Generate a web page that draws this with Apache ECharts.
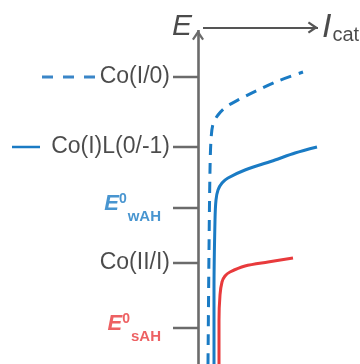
<!DOCTYPE html>
<html>
<head>
<meta charset="utf-8">
<script src="https://cdn.jsdelivr.net/npm/echarts@6/dist/echarts.min.js"></script>
<style>
html,body{margin:0;padding:0;background:#fff;}
#c{width:360px;height:364px;}
</style>
</head>
<body>
<div id="c"></div>
<script>
// ---- data (arbitrary units: x = catalytic current, y = potential E) ----
const tickLabels = ['Co(I/0)', 'Co(I)L(0/-1)', 'E0wAH', 'Co(II/I)', 'E0sAH'];
const tickE = [287, 217, 156, 101, 36];

// Co(I/0) catalytic wave (dashed)
const coI0X = [10, 11, 12, 13, 15, 20, 28, 42, 60, 80, 105];
const coI0E = [0, 114, 194, 224, 240, 249, 257, 265, 274, 283, 292];
// Co(I)L(0/-1) catalytic wave (solid blue)
const coILX = [16, 16, 17, 18, 20, 24, 30, 47, 77, 97, 119];
const coILE = [0, 74, 144, 164, 174, 181, 186, 194, 204, 211, 217];
// Co(II/I) catalytic wave (red)
const coIIX = [21, 21, 22, 24, 27, 32, 47, 70, 95];
const coIIE = [0, 44, 69, 82, 88, 92, 98, 102, 106];

// axis extents
const eAxisFrom = 0, eAxisTo = 334;
const iAxisFrom = 5, iAxisTo = 120, iAxisAt = 336.5;
const tickLen = 25;
// legend samples
const legendDashX = [-156, -101], legendSolidX = [-186, -158];

const axisColor = '#6b6b6b';
const textColor = '#1e1e1e';
const blue = '#1a7bc4';
const red = '#e83a3c';
const fontFam = "'Liberation Sans', Arial, sans-serif";

const zip = (xs, ys) => xs.map((x, i) => [x, ys[i]]);
const arrowPath = 'path://M0,9 L6,0 L12,9 L10.2,10.2 L6,4.2 L1.8,10.2 Z M6,-10.2 L6,-10.2';

const series = [];

// curves
series.push({
  type: 'line', data: zip(coI0X, coI0E), symbol: 'none', smooth: 0.3,
  lineStyle: { color: blue, width: 3, type: [11, 8] }, z: 3
});
series.push({
  type: 'line', data: zip(coILX, coILE), symbol: 'none', smooth: 0.3,
  lineStyle: { color: blue, width: 3 }, z: 3
});
series.push({
  type: 'line', data: zip(coIIX, coIIE), symbol: 'none', smooth: 0.3,
  lineStyle: { color: red, width: 3 }, z: 3
});

// tick marks
tickE.forEach((e, i) => {
  const s = {
    type: 'line', data: [[-tickLen, e], [0, e]], symbol: 'none',
    lineStyle: { color: axisColor, width: 2.5 }, z: 2
  };
  if (i === 0) {
    s.markLine = {
      silent: true, symbol: ['none', arrowPath], symbolSize: [12, 20.4],
      label: { show: false },
      lineStyle: { type: 'solid', color: axisColor, width: 2.6 },
      data: [
        [{ coord: [0, eAxisFrom] }, { coord: [0, eAxisTo] }],
        [{ coord: [iAxisFrom, iAxisAt], lineStyle: { color: '#555', width: 2.2 } },
         { coord: [iAxisTo, iAxisAt] }]
      ]
    };
  }
  series.push(s);
});

// legend samples
series.push({
  type: 'line', data: [[legendDashX[0], tickE[0]], [legendDashX[1], tickE[0]]], symbol: 'none',
  lineStyle: { color: '#3a86c8', width: 3, type: [11, 10] }
});
series.push({
  type: 'line', data: [[legendSolidX[0], tickE[1]], [legendSolidX[1], tickE[1]]], symbol: 'none',
  lineStyle: { color: blue, width: 2.5 }
});

// tick labels
function richFor(c) {
  return {
    eb: { fontSize: 22, fontWeight: 'bold', fontStyle: 'italic', color: c, fontFamily: fontFam },
    sup: { fontSize: 14, fontWeight: 'bold', color: c, padding: [0, 0, 10, 0], fontFamily: fontFam },
    sub: { fontSize: 15, fontWeight: 'bold', color: c, padding: [25, 0, 0, 1], fontFamily: fontFam }
  };
}
series.push({
  type: 'scatter', symbolSize: 0, silent: true, z: 5,
  data: tickE.map((e, i) => {
    const name = tickLabels[i];
    const isE0 = name.indexOf('E0') === 0;
    const c = name === 'E0sAH' ? red : blue;
    return {
      value: [-tickLen, e],
      label: isE0 ? {
        formatter: '{eb|E}{sup|0}{sub|' + name.slice(2) + '}',
        distance: 12, offset: [0, -4], rich: richFor(c)
      } : { formatter: name, distance: 3, color: textColor, fontSize: 23 }
    };
  }),
  label: {
    show: true, position: 'left', color: textColor, fontSize: 23, fontFamily: fontFam
  }
});

// axis names
series.push({
  type: 'scatter', symbolSize: 0, silent: true, z: 5,
  data: [
    { value: [0, 337], label: { position: 'left', distance: 6, formatter: 'E',
      fontSize: 30, fontStyle: 'italic', color: textColor } },
    { value: [iAxisTo, iAxisAt], label: { position: 'right', distance: 4,
      formatter: '{i|I}{c|cat}',
      rich: {
        i: { fontSize: 34, fontStyle: 'italic', color: textColor, fontFamily: fontFam },
        c: { fontSize: 20, color: textColor, padding: [15, 0, 0, 1], fontFamily: fontFam }
      } } }
  ],
  label: { show: true, color: textColor, fontFamily: fontFam }
});

const chart = echarts.init(document.getElementById('c'), null, { renderer: 'canvas' });
chart.setOption({
  animation: false,
  grid: { left: 0, right: 0, top: 0, bottom: 0 },
  xAxis: { type: 'value', min: -198, max: 162, show: false },
  yAxis: { type: 'value', min: 0, max: 364, show: false },
  series: series
});
</script>
</body>
</html>
